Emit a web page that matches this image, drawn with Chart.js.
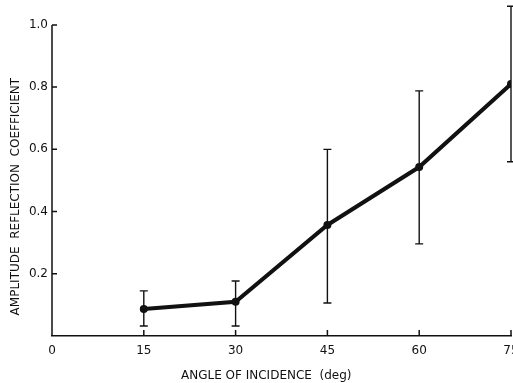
<!DOCTYPE html>
<html>
<head>
<meta charset="utf-8">
<script src="https://cdn.jsdelivr.net/npm/chart.js@4"></script>
<style>
  html, body { margin: 0; padding: 0; background: #fff; overflow: hidden; }
</style>
</head>
<body>
<canvas id="grafico" width="513" height="383"></canvas>
<script>
// datos
const angulos = [15, 30, 45, 60, 75];
const coeficiente = [0.087, 0.11, 0.357, 0.543, 0.81];
const errorAlto = [0.145, 0.177, 0.60, 0.788, 1.06];
const errorBajo = [0.032, 0.032, 0.106, 0.296, 0.56];
const ticksX = [0, 15, 30, 45, 60, 75];
const ticksY = [0.2, 0.4, 0.6, 0.8, 1.0];

const ctx = document.getElementById('grafico').getContext('2d');
const tinta = '#111';

// barras de error, marcas hacia adentro y eje y (solo hasta 1.0)
const extras = {
  id: 'extras',
  beforeDatasetsDraw(chart) {
    const c = chart.ctx;
    const xs = chart.scales.x;
    const ys = chart.scales.y;
    c.save();
    c.strokeStyle = tinta;
    c.lineWidth = 1.4;
    angulos.forEach((a, i) => {
      const x = xs.getPixelForValue(a);
      const yT = ys.getPixelForValue(errorAlto[i]);
      const yB = ys.getPixelForValue(errorBajo[i]);
      c.beginPath();
      c.moveTo(x, yT); c.lineTo(x, yB);
      c.moveTo(x - 4, yT); c.lineTo(x + 4, yT);
      c.moveTo(x - 4, yB); c.lineTo(x + 4, yB);
      c.stroke();
    });
    // eje y
    c.lineWidth = 1.5;
    const x0 = xs.getPixelForValue(0);
    c.beginPath();
    c.moveTo(x0, ys.getPixelForValue(0));
    c.lineTo(x0, ys.getPixelForValue(1.0));
    ticksY.forEach(v => {
      const y = ys.getPixelForValue(v);
      c.moveTo(x0, y); c.lineTo(x0 + 5, y);
    });
    const y0 = ys.getPixelForValue(0);
    ticksX.slice(1).forEach(v => {
      const x = xs.getPixelForValue(v);
      c.moveTo(x, y0); c.lineTo(x, y0 - 6);
    });
    c.stroke();
    c.restore();
  }
};

new Chart(ctx, {
  type: 'line',
  data: {
    datasets: [{
      data: angulos.map((a, i) => ({ x: a, y: coeficiente[i] })),
      borderColor: tinta,
      backgroundColor: tinta,
      borderWidth: 4,
      pointRadius: 2,
      tension: 0
    }]
  },
  options: {
    responsive: false,
    animation: false,
    layout: { autoPadding: false, padding: { top: 0, right: 2, left: 0, bottom: 0 } },
    plugins: { legend: { display: false }, tooltip: { enabled: false } },
    scales: {
      x: {
        type: 'linear',
        min: 0,
        max: 75,
        afterBuildTicks: s => { s.ticks = ticksX.map(v => ({ value: v })); },
        afterFit: s => { s.paddingLeft = 0; s.paddingRight = 0; s.height = 47; },
        grid: { display: false, drawTicks: false },
        border: { display: true, color: tinta, width: 1.5 },
        ticks: {
          color: tinta,
          padding: 8,
          maxRotation: 0,
          font: { family: 'DejaVu Sans', size: 12 }
        },
        title: {
          display: true,
          text: 'ANGLE OF INCIDENCE  (deg)        ',
          color: tinta,
          padding: { top: 0, bottom: 0 },
          font: { family: 'DejaVu Sans', size: 12 }
        }
      },
      y: {
        min: 0,
        max: 1.08,
        afterBuildTicks: s => { s.ticks = ticksY.map(v => ({ value: v })); },
        afterFit: s => { s.paddingTop = 0; s.paddingBottom = 0; s.width = 52; },
        grid: { display: false, drawTicks: false },
        border: { display: false },
        ticks: {
          color: tinta,
          padding: 4,
          callback: v => v.toFixed(1),
          font: { family: 'DejaVu Sans', size: 12 }
        },
        title: {
          display: true,
          text: 'AMPLITUDE  REFLECTION  COEFFICIENT               ',
          color: tinta,
          padding: { top: 9, bottom: 0 },
          font: { family: 'DejaVu Sans', size: 12 }
        }
      }
    }
  },
  plugins: [extras]
});
</script>
</body>
</html>
